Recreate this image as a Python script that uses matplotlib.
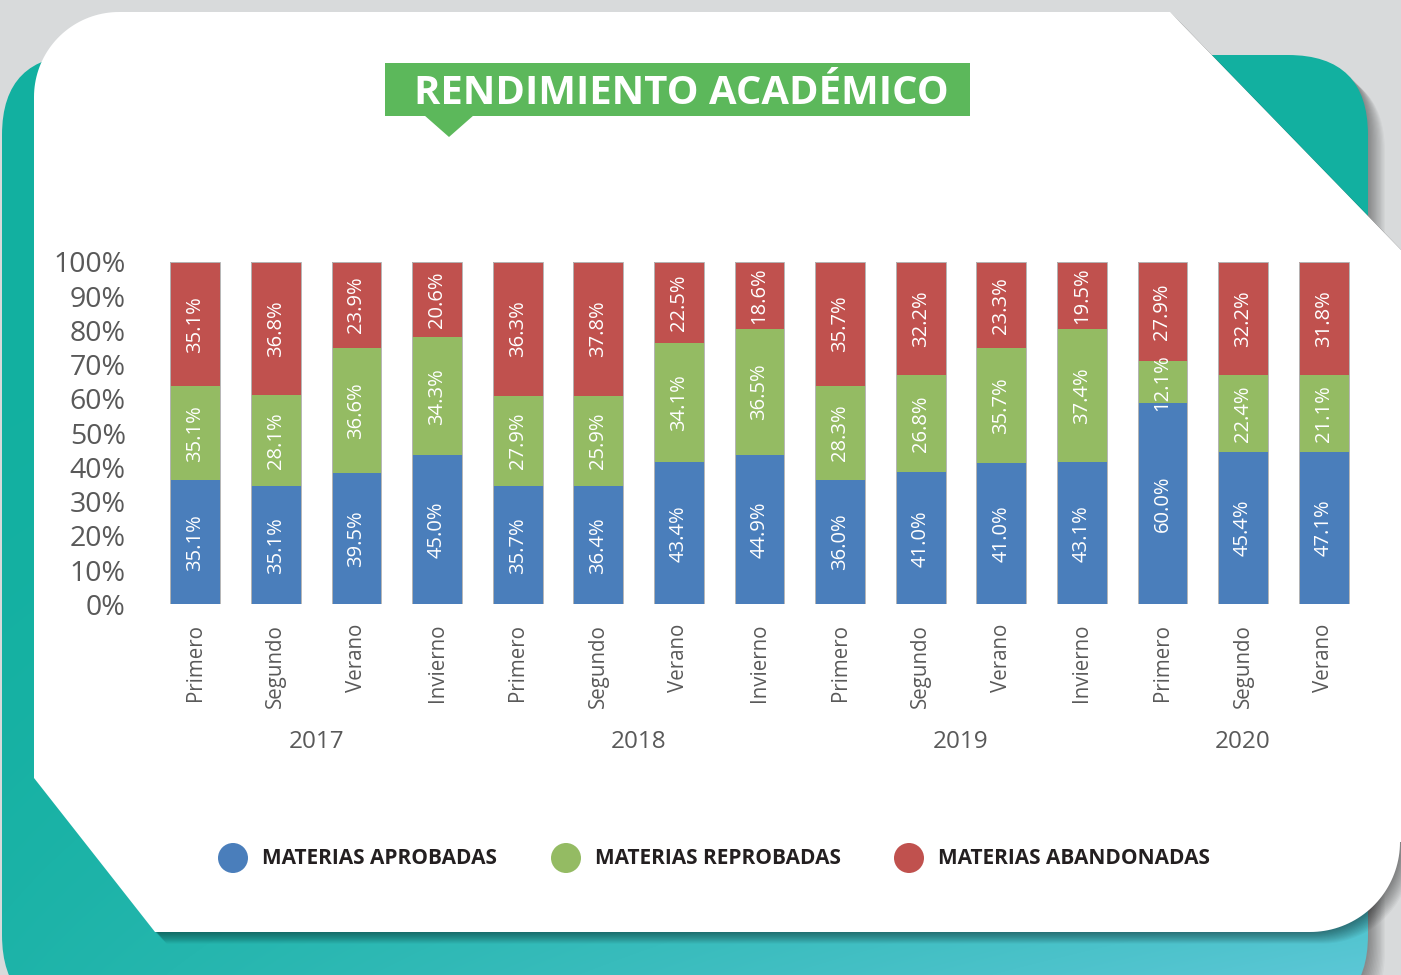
import numpy as np
import matplotlib
matplotlib.use("Agg")
import matplotlib.pyplot as plt
from matplotlib.patches import Polygon, FancyBboxPatch, Circle, Rectangle
import matplotlib.transforms as mtransforms

# ---------------- data ----------------
periods = ["Primero", "Segundo", "Verano", "Invierno",
           "Primero", "Segundo", "Verano", "Invierno",
           "Primero", "Segundo", "Verano", "Invierno",
           "Primero", "Segundo", "Verano"]
years = ["2017", "2018", "2019", "2020"]
year_group_sizes = [4, 4, 4, 3]

# segment heights as drawn in the chart (% of the 100% axis)
aprobadas_h = [36.3, 34.5, 38.3, 43.6, 34.5, 34.5, 41.5, 43.6, 36.3, 38.6, 41.2, 41.5, 58.8, 44.5, 44.5]
reprobadas_h = [27.4, 26.6, 36.5, 34.4, 26.3, 26.3, 34.8, 36.8, 27.4, 28.3, 33.6, 38.9, 12.2, 22.4, 22.4]
abandonadas_h = [36.3, 38.9, 25.2, 22.0, 39.2, 39.2, 23.7, 19.6, 36.3, 33.1, 25.2, 19.6, 29.0, 33.1, 33.1]

# printed value labels
aprobadas_lbl = ["35.1%", "35.1%", "39.5%", "45.0%", "35.7%", "36.4%", "43.4%", "44.9%",
                 "36.0%", "41.0%", "41.0%", "43.1%", "60.0%", "45.4%", "47.1%"]
reprobadas_lbl = ["35.1%", "28.1%", "36.6%", "34.3%", "27.9%", "25.9%", "34.1%", "36.5%",
                  "28.3%", "26.8%", "35.7%", "37.4%", "12.1%", "22.4%", "21.1%"]
abandonadas_lbl = ["35.1%", "36.8%", "23.9%", "20.6%", "36.3%", "37.8%", "22.5%", "18.6%",
                   "35.7%", "32.2%", "23.3%", "19.5%", "27.9%", "32.2%", "31.8%"]

series_names = ["MATERIAS APROBADAS", "MATERIAS REPROBADAS", "MATERIAS ABANDONADAS"]
series_colors = ["#4a7ebb", "#94bb63", "#c0514e"]
y_ticks = [0, 10, 20, 30, 40, 50, 60, 70, 80, 90, 100]
y_ticklabels = ["0%", "10%", "20%", "30%", "40%", "50%", "60%", "70%", "80%", "90%", "100%"]
title = "RENDIMIENTO ACADÉMICO"

# ---------------- figure ----------------
W, H = 1401, 975
plt.rcParams['font.family'] = ['Open Sans', 'DejaVu Sans']
fig = plt.figure(figsize=(W / 100, H / 100), dpi=100)
fig.patch.set_facecolor("#d8dadb")

# decorative background layer in pixel coordinates
bg = fig.add_axes([0, 0, 1, 1])
bg.set_xlim(0, W)
bg.set_ylim(H, 0)
bg.axis("off")

# teal rounded panel with gradient
teal_box = FancyBboxPatch((2, 55), 1366, 960, boxstyle="round,pad=0,rounding_size=80",
                          facecolor="none", edgecolor="none")
for k in range(1, 14):
    sh = FancyBboxPatch((2 + k * 1.3, 55 + k * 1.3), 1366, 960,
                        boxstyle="round,pad=0,rounding_size=80",
                        facecolor="black", edgecolor="none", alpha=0.03)
    bg.add_patch(sh)
bg.add_patch(teal_box)
yy, xx = np.mgrid[0:H, 0:W]
t = np.clip(((yy / H) ** 3) * (0.15 + 0.85 * xx / W), 0, 1)
c0 = np.array([0x12, 0xb0, 0xa0]) / 255
c1 = np.array([0x5e, 0xc8, 0xd8]) / 255
img = c0[None, None, :] * (1 - t[..., None]) + c1[None, None, :] * t[..., None]
im = bg.imshow(img, extent=[0, W, H, 0], zorder=1, aspect="auto")
im.set_clip_path(teal_box)


def arc(cx, cy, r, a0, a1, n=40):
    a = np.radians(np.linspace(a0, a1, n))
    return np.column_stack([cx + r * np.cos(a), cy + r * np.sin(a)])


R1, R2 = 85, 90
card_pts = np.vstack([
    [[34, 778]],
    [[34, 12 + R1]],
    arc(34 + R1, 12 + R1, R1, 180, 270),
    [[1170, 12]],
    [[1402, 251]],
    [[1402, 932 - R2]],
    arc(1400 - R2, 932 - R2, R2, 0, 90),
    [[155, 932]],
])
for k in range(1, 14):
    bg.add_patch(Polygon(card_pts + np.array([k * 0.9, k * 0.9]), closed=True,
                         facecolor="black", edgecolor="none", alpha=0.035, zorder=2))
bg.add_patch(Polygon(card_pts, closed=True, facecolor="white", edgecolor="none", zorder=3))

# title box
bg.add_patch(Rectangle((385, 63), 585, 53, facecolor="#5cb85b", edgecolor="none", zorder=4))
bg.add_patch(Polygon([[424, 115], [474, 115], [449, 137]], closed=True,
                     facecolor="#5cb85b", edgecolor="none", zorder=4))
bg.text(681, 93, title, color="white", fontsize=28.8, fontweight="bold",
        ha="center", va="center", zorder=5)

# legend
legend_x = [233, 566, 909]
for name, col, cx in zip(series_names, series_colors, legend_x):
    bg.add_patch(Circle((cx, 858), 15, facecolor=col, edgecolor="none", zorder=5))
    bg.text(cx + 29, 858, name, color="#231f20", fontsize=15, fontweight="bold",
            ha="left", va="center", zorder=5)

# ---------------- main chart ----------------
ax = fig.add_axes([155 / W, 1 - 604.3 / H, 1209 / W, 342.3 / H])
ax.set_facecolor("none")
x = np.arange(len(periods))
bw = 0.62
bottoms = np.zeros(len(periods))
for heights, labels, col in zip([aprobadas_h, reprobadas_h, abandonadas_h],
                                [aprobadas_lbl, reprobadas_lbl, abandonadas_lbl],
                                series_colors):
    h = np.array(heights)
    ax.bar(x, h, bw, bottom=bottoms, color=col, edgecolor="none", zorder=2)
    for xi, b, hi, lb in zip(x, bottoms, h, labels):
        ax.text(xi, b + hi / 2, lb, rotation=90, ha="center", va="center",
                color="white", fontsize=14.5, zorder=4)
    bottoms = bottoms + h
ax.bar(x, bottoms, bw, fill=False, edgecolor="#b5b5b5", linewidth=0.7, zorder=3)

ax.set_xlim(-0.5, len(periods) - 0.5)
ax.set_ylim(0, 100)
for s in ax.spines.values():
    s.set_visible(False)
ax.set_yticks(y_ticks)
ax.set_yticklabels(y_ticklabels, fontsize=20.5, color="#595959")
ax.set_xticks(x)
ax.set_xticklabels(periods, rotation=90, fontsize=14.8, color="#595959")
ax.tick_params(axis="y", length=0, pad=21)
ax.tick_params(axis="x", length=0, pad=14)

# year group labels
trans = mtransforms.blended_transform_factory(ax.transData, fig.transFigure)
start = 0
for yr, n in zip(years, year_group_sizes):
    center = x[start:start + n].mean()
    ax.text(center, 1 - 742 / H, yr, transform=trans, ha="center", va="center",
            fontsize=17.5, color="#595959")
    start += n

fig.savefig("out.png", dpi=100, facecolor=fig.get_facecolor())
